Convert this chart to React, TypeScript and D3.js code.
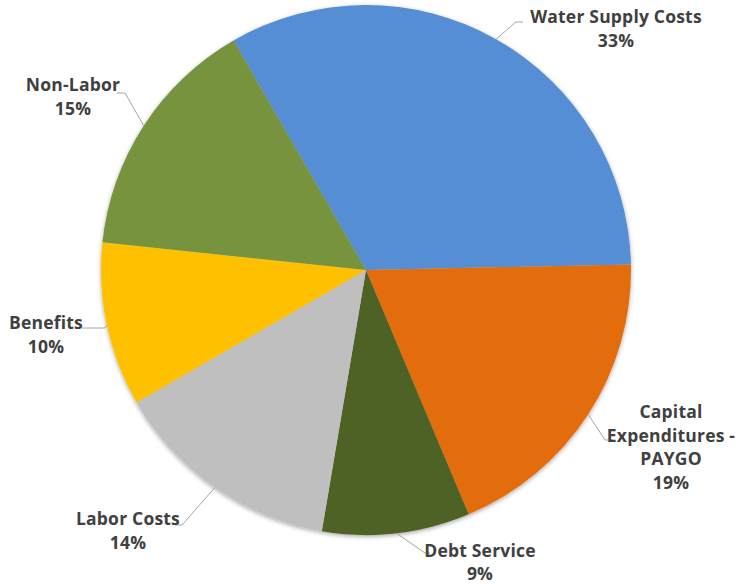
import React from "react";
import * as d3 from "d3";

const categories = ["Water Supply Costs", "Capital Expenditures - PAYGO", "Debt Service", "Labor Costs", "Benefits", "Non-Labor"];
const values = [33, 19, 9, 14, 10, 15];
const colors = ["#558ED5", "#E36C09", "#4F6228", "#BFBFBF", "#FFC000", "#77933C"];
const labelLines = [
  ["Water Supply Costs"],
  ["Capital", "Expenditures -", "PAYGO"],
  ["Debt Service"],
  ["Labor Costs"],
  ["Benefits"],
  ["Non-Labor"],
];

// layout: label center x, first line baseline y, line gap, elbow start x, elbow end x, elbow y
const layout = [
  { x: 616, y: 23, gap: 23.5, ex1: 516, ex2: 523, ey: 22 },
  { x: 671, y: 418, gap: 23.5, ex1: 605, ex2: 613, ey: 440 },
  { x: 480, y: 557, gap: 22.5, ex1: 425, ex2: 430, ey: 553 },
  { x: 128, y: 525, gap: 23.5, ex1: 182, ex2: 175, ey: 525 },
  { x: 46, y: 329, gap: 23.5, ex1: 105, ex2: 82, ey: 328 },
  { x: 73, y: 91, gap: 23.5, ex1: 125, ex2: 117, ey: 93 },
];

const W = 742, H = 586;
const cx = 366, cy = 270, R = 265;

export default function App() {
  const pie = d3.pie<number>().sort(null).startAngle(-Math.PI / 6).endAngle(2 * Math.PI - Math.PI / 6);
  const arcs = pie(values);
  const arc = d3.arc<d3.PieArcDatum<number>>().innerRadius(0).outerRadius(R);
  const total = d3.sum(values);
  const fmt = d3.format(".0%");
  return (
    <svg width={W} height={H} style={{ position: "absolute", left: 0, top: 0, background: "#fff" }}>
      <defs>
        <filter id="sh" x="-10%" y="-10%" width="120%" height="120%">
          <feDropShadow dx="0" dy="1.5" stdDeviation="2" floodColor="#000" floodOpacity="0.35" />
        </filter>
      </defs>
      <g transform={`translate(${cx},${cy})`} filter="url(#sh)">
        {arcs.map((a, i) => (
          <path key={i} d={arc(a) || ""} fill={colors[i]} />
        ))}
      </g>
      {arcs.map((a, i) => {
        const mid = (a.startAngle + a.endAngle) / 2;
        const px = cx + R * Math.sin(mid);
        const py = cy - R * Math.cos(mid);
        const L = layout[i];
        return (
          <polyline key={"l" + i} points={`${px},${py} ${L.ex1},${L.ey} ${L.ex2},${L.ey}`} fill="none" stroke="#A6A6A6" strokeWidth={1} />
        );
      })}
      {arcs.map((a, i) => {
        const L = layout[i];
        const lines = [...labelLines[i], fmt(values[i] / total)];
        return (
          <text key={"t" + i} x={L.x} y={L.y} textAnchor="middle" fontFamily="'Open Sans', sans-serif" fontWeight="bold" fontSize={17.5} letterSpacing={0.2} fill="#404040">
            {lines.map((s, j) => (
              <tspan key={j} x={L.x} dy={j === 0 ? 0 : L.gap}>{s}</tspan>
            ))}
          </text>
        );
      })}
    </svg>
  );
}
